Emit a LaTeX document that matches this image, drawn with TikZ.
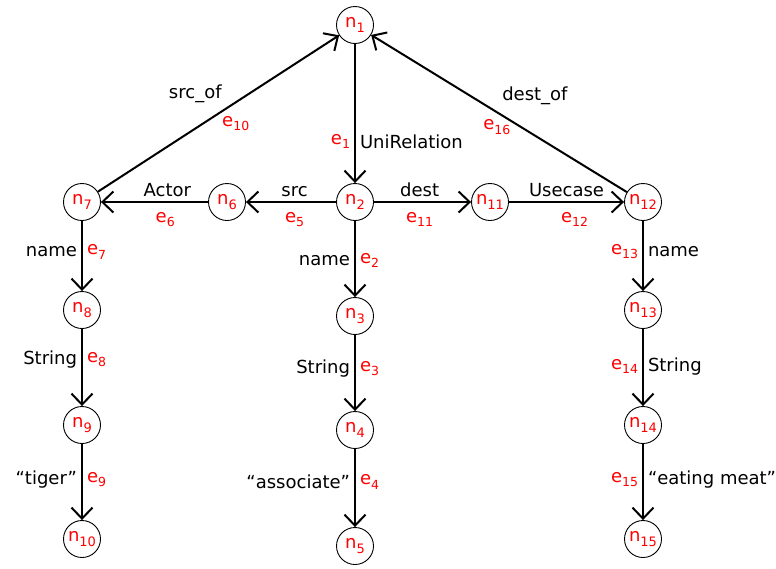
\documentclass[tikz,border=0pt]{standalone}
\usepackage{fontspec}
\setmainfont{DejaVu Sans}
\usetikzlibrary{arrows.meta}
% small lowered indices used in node and edge names
\newcommand\lsub[1]{\raisebox{-0.45ex}{\fontsize{12.5}{12.5}\selectfont #1}}
\newcommand\vsub[1]{\raisebox{-0.45ex}{\fontsize{13}{13}\selectfont #1}}

\begin{document}
\begin{tikzpicture}[x=1pt,y=-1pt,
  vert/.style={circle, draw, line width=0.9pt, minimum size=37pt, inner sep=0pt,
               text=red, font=\fontsize{18}{18}\selectfont},
  link/.style={line width=2pt,
               -{Straight Barb[length=11pt,width=21pt]}},
  lbl/.style={font=\fontsize{18}{18}\selectfont, inner sep=4pt, text=black},
  elbl/.style={font=\fontsize{18}{18}\selectfont, inner sep=4pt, text=red},
  under/.style={below=5pt}]
\useasboundingbox (0,0) rectangle (776,568);

% vertices
\node[vert] (n1)  at (355,25)  {n\vsub{1}};
\node[vert] (n2)  at (355,202) {n\vsub{2}};
\node[vert] (n3)  at (355,316) {n\vsub{3}};
\node[vert] (n4)  at (355,430) {n\vsub{4}};
\node[vert] (n5)  at (355,546) {n\vsub{5}};
\node[vert] (n6)  at (227,202) {n\vsub{6}};
\node[vert] (n7)  at (82,202)  {n\vsub{7}};
\node[vert] (n8)  at (82,310)  {n\vsub{8}};
\node[vert] (n9)  at (82,425)  {n\vsub{9}};
\node[vert] (n10) at (82,539)  {n\vsub{10}};
\node[vert] (n11) at (490,202) {n\vsub{11}};
\node[vert] (n12) at (643,202) {n\vsub{12}};
\node[vert] (n13) at (643,310) {n\vsub{13}};
\node[vert] (n14) at (643,425) {n\vsub{14}};
\node[vert] (n15) at (643,539) {n\vsub{15}};

% central column
\draw[link] (n1) -- (n2)
  node[pos=0.70, left, elbl] {e\lsub{1}}
  node[pos=0.70, right, lbl] {UniRelation};
\draw[link] (n2) -- (n3)
  node[pos=0.52, left, lbl] {name}
  node[pos=0.52, right, elbl] {e\lsub{2}};
\draw[link] (n3) -- (n4)
  node[pos=0.44, left, lbl] {String}
  node[pos=0.44, right, elbl] {e\lsub{3}};
\draw[link] (n4) -- (n5)
  node[pos=0.42, left, lbl] {“associate”}
  node[pos=0.42, right, elbl] {e\lsub{4}};

% left branch
\draw[link] (n2) -- (n6)
  node[pos=0.46, above, lbl] {src}
  node[pos=0.46, under, elbl] {e\lsub{5}};
\draw[link] (n6) -- (n7)
  node[pos=0.38, above, lbl] {Actor}
  node[pos=0.40, under, elbl] {e\lsub{6}};
\draw[link] (n7) -- (n8)
  node[pos=0.44, left, lbl] {name}
  node[pos=0.44, right, elbl] {e\lsub{7}};
\draw[link] (n8) -- (n9)
  node[pos=0.40, left, lbl] {String}
  node[pos=0.40, right, elbl] {e\lsub{8}};
\draw[link] (n9) -- (n10)
  node[pos=0.47, left, lbl] {“tiger”}
  node[pos=0.47, right, elbl] {e\lsub{9}};

% right branch
\draw[link] (n2) -- (n11)
  node[pos=0.47, above, lbl] {dest}
  node[pos=0.47, under, elbl] {e\lsub{11}};
\draw[link] (n11) -- (n12)
  node[pos=0.50, above, lbl] {Usecase}
  node[pos=0.57, under, elbl] {e\lsub{12}};
\draw[link] (n12) -- (n13)
  node[pos=0.44, left, elbl] {e\lsub{13}}
  node[pos=0.44, right, lbl] {name};
\draw[link] (n13) -- (n14)
  node[pos=0.49, left, elbl] {e\lsub{14}}
  node[pos=0.49, right, lbl] {String};
\draw[link] (n14) -- (n15)
  node[pos=0.47, left, elbl] {e\lsub{15}}
  node[pos=0.47, right, lbl] {“eating meat”};

% back links to the root
\draw[link] (n7) -- (n1)
  node[pos=0.47, xshift=-16pt, yshift=24pt, lbl] {src\_of}
  node[pos=0.53, xshift=10pt, yshift=-15pt, elbl] {e\lsub{10}};
\draw[link] (n12) -- (n1)
  node[pos=0.43, xshift=18pt, yshift=29pt, lbl] {dest\_of}
  node[pos=0.477, xshift=-8pt, yshift=-10pt, elbl] {e\lsub{16}};
\end{tikzpicture}
\end{document}
